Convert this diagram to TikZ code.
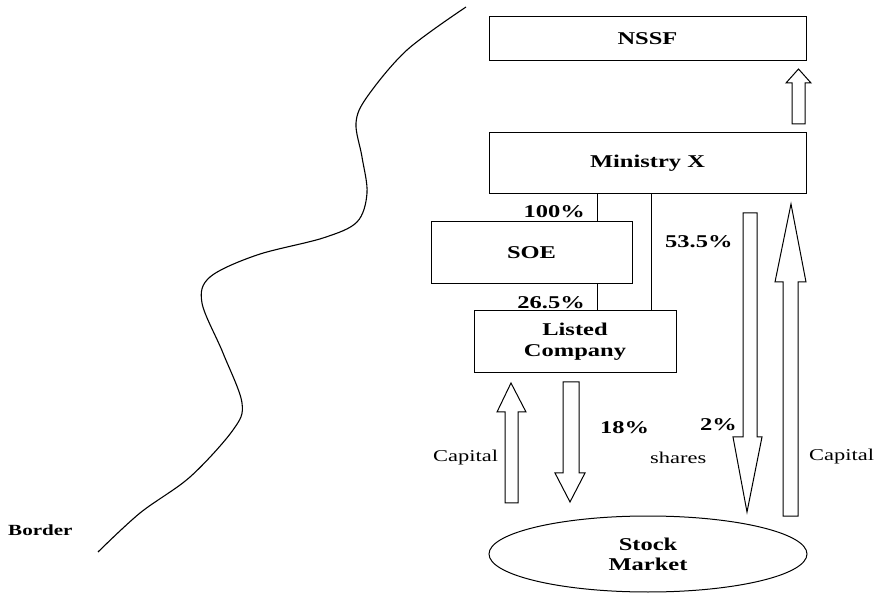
\documentclass[tikz,border=0pt]{standalone}
\usepackage{fontspec}
\setmainfont{Liberation Serif}
\usepackage{graphicx}
\usetikzlibrary{shapes.geometric}

% wide lettering used throughout the chart
\newcommand\wtxt[1]{\scalebox{1.36}[1]{#1}}

\tikzset{
  box/.style={draw, line width=1pt, rectangle, inner sep=0pt,
    font=\fontsize{18}{21}\selectfont\bfseries, align=center},
  market/.style={draw, line width=1pt, ellipse, inner sep=0pt,
    font=\fontsize{18}{20}\selectfont\bfseries, align=center},
  pct/.style={inner sep=0pt, font=\fontsize{18}{19}\selectfont\bfseries},
  flow/.style={inner sep=0pt, font=\fontsize{16.5}{18}\selectfont},
  blockarrow/.style={draw, line width=1pt, fill=white, line join=miter},
  borderline/.style={line width=1.1pt}
}

\begin{document}
\begin{tikzpicture}[x=1pt,y=-1pt]
\useasboundingbox (0,0) rectangle (884,593);

% organisations
\node[box, minimum width=317pt, minimum height=44pt] (nssf) at (647.5,39) {\wtxt{NSSF}};
\node[box, minimum width=317pt, minimum height=61pt] (ministry) at (647.5,163.5) {\wtxt{Ministry X}};
\node[box, minimum width=201pt, minimum height=62pt] (soe) at (531.5,253) {\wtxt{SOE}};
\node[box, minimum width=202pt, minimum height=62pt] (listed) at (575,342) {\wtxt{Listed}\\\wtxt{Company}};
\node[market, minimum width=318pt, minimum height=76pt] (stock) at (648,554) {\wtxt{Stock}\\\wtxt{Market}};

% ownership lines
\coordinate (soeline) at (597,0);
\coordinate (directline) at (651,0);
\draw[line width=1pt] (ministry.south -| soeline) -- (soe.north -| soeline);
\draw[line width=1pt] (soe.south -| soeline) -- (listed.north -| soeline);
\draw[line width=1pt] (ministry.south -| directline) -- (listed.north -| directline);

% shareholding labels
\node[pct, anchor=east] (p100) at (585,212) {\wtxt{100\%}};
\node[pct, anchor=east] (p265) at (585,303) {\wtxt{26.5\%}};
\node[pct, anchor=west] (p535) at (665,242) {\wtxt{53.5\%}};
\node[pct, anchor=west] (p18) at (600,428) {\wtxt{18\%}};
\node[pct, anchor=west] (p2) at (700,425) {\wtxt{2\%}};

% flow labels
\node[flow, anchor=west] (capl) at (433,458) {\wtxt{Capital}};
\node[flow, anchor=west] (shares) at (650,458) {\wtxt{shares}};
\node[flow, anchor=west] (capr) at (809,457) {\wtxt{Capital}};
\node[pct, anchor=west, font=\fontsize{15.5}{17}\selectfont\bfseries] (border) at (8,530) {\wtxt{Border}};

% block arrows
\draw[blockarrow] (792,124) -- (792,83) -- (786,83) -- (798.5,69) -- (811,83) -- (805,83) -- (805,124) -- cycle;
\draw[blockarrow] (505,503) -- (505,412) -- (497,412) -- (511,383) -- (526,412) -- (518,412) -- (518,503) -- cycle;
\draw[blockarrow] (563,382) -- (563,473) -- (555,473) -- (570,502) -- (585,473) -- (579,473) -- (579,382) -- cycle;
\draw[blockarrow] (743,213) -- (743,437) -- (733,437) -- (747,512) -- (762,437) -- (757,437) -- (757,213) -- cycle;
\draw[blockarrow] (783,516) -- (783,282) -- (775,282) -- (791,204) -- (806,282) -- (798,282) -- (798,516) -- cycle;

% border line
\draw[borderline] plot[smooth, tension=0.55] coordinates {(466,7) (407,50) (367,97) (356,123) (362,157) (367,193) (357,222) (323,238) (257,255) (210,277) (202,303) (223,353) (242,403) (233,430) (190,477) (140,513) (98,552)};
\end{tikzpicture}
\end{document}
